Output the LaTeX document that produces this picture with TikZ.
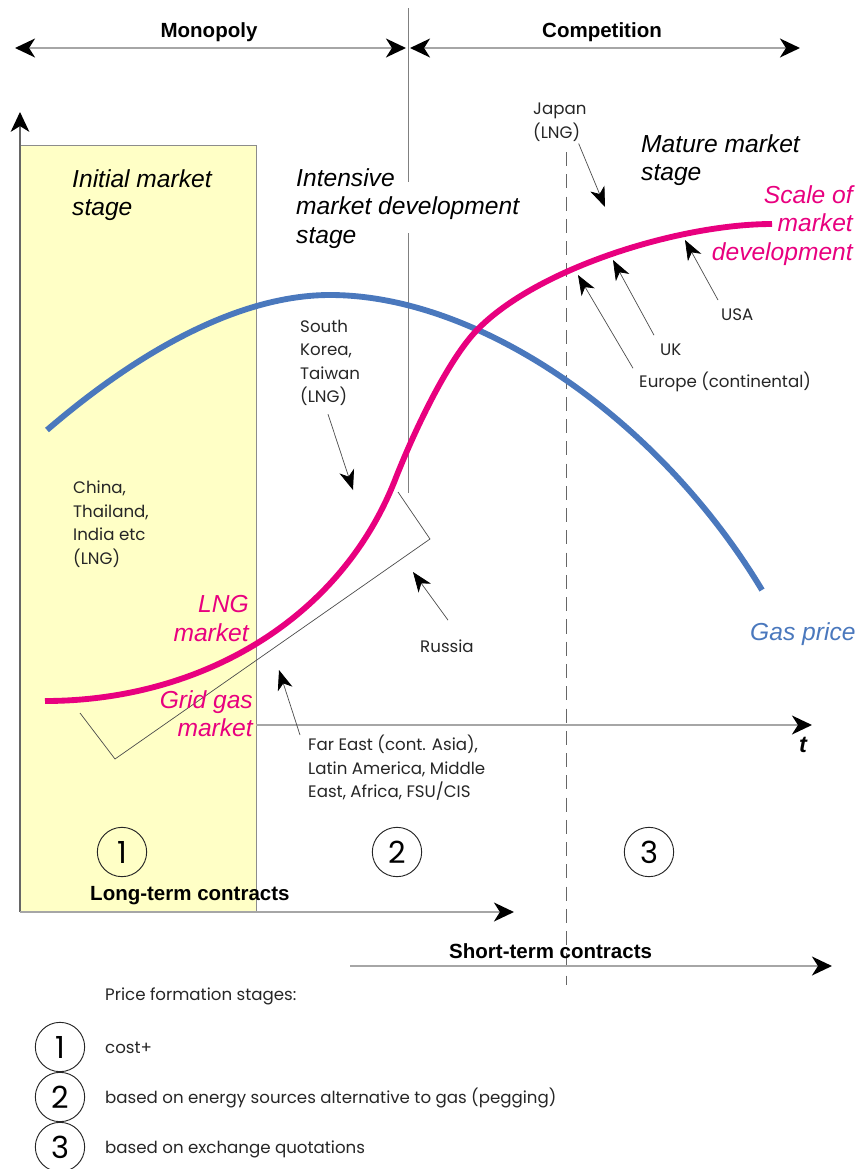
\documentclass[tikz,border=0pt]{standalone}
\usepackage{fontspec}
\setmainfont{Liberation Sans}
\newfontfamily\geofont{Poppins}
\usetikzlibrary{arrows.meta}
\definecolor{stageyellow}{HTML}{FFFFC6}
\definecolor{lngred}{HTML}{E8007F}
\definecolor{priceblue}{HTML}{4A78BD}

\begin{document}
\begin{tikzpicture}[x=0.03cm,y=-0.03cm,
		stagetext/.style={font=\fontsize{21}{24.5}\selectfont\itshape,align=left,inner sep=0pt},
		curvetext/.style={font=\fontsize{21}{24.5}\selectfont\itshape,align=right,inner sep=0pt},
		placetext/.style={font=\geofont\fontsize{14.2}{20}\selectfont,align=left,inner sep=0pt,text=black!85},
		boldtext/.style={font=\fontsize{17.5}{18}\selectfont\bfseries,inner sep=0pt},
		pointer/.style={draw=black!70,line width=0.6pt,-{Stealth[color=black,length=17pt,width=13pt,inset=5pt]}},
		spanline/.style={draw=black!35,line width=2.5pt},
		bighead/.style={-{Stealth[color=black,length=17pt,width=16pt,inset=5pt]}},
		spanboth/.style={spanline,>={Stealth[color=black,length=17pt,width=16pt,inset=5pt]},<->},
		stagenum/.style={circle,draw=black!85,line width=0.8pt,minimum size=1.48cm,inner sep=0pt,font=\geofont\fontsize{26}{26}\selectfont}]
	\useasboundingbox (0,0) rectangle (858,1169);
	\coordinate (origin) at (20,912);
	\coordinate (yend) at (20,112);
	\coordinate (xstart) at (256,725);
	\coordinate (xend) at (812,725);
	\coordinate (longend) at (514,912);
	\coordinate (shortstart) at (350,966);
	\coordinate (shortend) at (832,966);
	\draw[draw=black!45,fill=stageyellow] (20,145) rectangle (256,912);
	\draw[black!50,line width=0.8pt] (408,8) -- (408,182) (408,233) -- (408,493);
	\draw[black!60,line width=0.8pt,dash pattern=on 12pt off 7pt] (566,152) -- (566,985);
	\draw[spanboth] (15,48) -- (406,48);
	\draw[spanboth] (410,48) -- (800,48);
	\node[boldtext,anchor=base] (monopoly) at (209,37) {Monopoly};
	\node[boldtext,anchor=base] (competition) at (602,37) {Competition};
	\draw[black!60,line width=1pt,bighead] (origin) -- (yend);
	\draw[spanline,bighead] (xstart) -- (xend);
	\draw[spanline,bighead] (origin) -- (longend);
	\draw[spanline,bighead] (shortstart) -- (shortend);
	\draw[black!70,line width=0.6pt] (80,713) -- (115,759) -- (430,539) -- (398,492);
	\draw[priceblue,line width=5pt] (47,430) .. controls (140,350) and (240,295) .. (330,295) .. controls (480,295) and (660,420) .. (762,590);
	\draw[lngred,line width=5pt] (45,701) .. controls (200,701) and (340,620) .. (395,480) .. controls (413,434) and (447,361) .. (477,330) .. controls (537,268) and (680,224) .. (772,224);
	\node[stagetext,anchor=north west] (initial) at (72,169) {Initial market\\stage};
	\node[stagetext,anchor=north west] (intensive) at (296,168) {Intensive\\market development\\stage};
	\node[stagetext,anchor=north west] (mature) at (641,134) {Mature market\\stage};
	\node[curvetext,text=lngred,anchor=north east] (scale) at (853,185) {Scale of\\market\\development};
	\node[curvetext,text=lngred,anchor=north east] (lng) at (249,595) {LNG\\market};
	\node[curvetext,text=lngred,anchor=north east] (grid) at (253,690) {Grid gas\\market};
	\node[stagetext,text=priceblue,anchor=base west] (price) at (750,640) {Gas price};
	\node[font=\fontsize{20}{20}\selectfont\bfseries\itshape,anchor=base] (taxis) at (803,752) {t};
	\node[placetext,anchor=north west] (china) at (73,481) {China,\\Thailand,\\India etc\\(LNG)};
	\node[placetext,anchor=north west] (korea) at (300,320) {South\\Korea,\\Taiwan\\(LNG)};
	\node[placetext,anchor=north west] (japan) at (533,103) {Japan\\(LNG)};
	\node[placetext,anchor=base west] (usa) at (721,320) {USA};
	\node[placetext,anchor=base west] (uk) at (660,355) {UK};
	\node[placetext,anchor=base west] (europe) at (639,387) {Europe (continental)};
	\node[placetext,anchor=base west] (russia) at (420,652) {Russia};
	\node[placetext,anchor=north west] (fareast) at (308,735) {Far East (cont. Asia),\\Latin America, Middle\\East, Africa, FSU/CIS};
	\coordinate (japanhead) at (605,207);
	\coordinate (koreahead) at (353,490);
	\coordinate (usahead) at (685,240);
	\coordinate (ukhead) at (613,260);
	\coordinate (europehead) at (578,275);
	\coordinate (russiahead) at (413,572);
	\coordinate (fareasthead) at (279,670);
	\draw[pointer] (japan.south east) ++(-8,2) -- (japanhead);
	\draw[pointer] (korea.south west) ++(28,8) -- (koreahead);
	\draw[pointer] (usa.north west) ++(-3,-8) -- (usahead);
	\draw[pointer] (uk.north west) ++(-6,-8) -- (ukhead);
	\draw[pointer] (europe.north west) ++(-6,-3) -- (europehead);
	\draw[pointer] (russia.north west) ++(28,-19) -- (russiahead);
	\draw[pointer] (fareast.north west) ++(-8,0) -- (fareasthead);
	\node[stagenum] (first) at (122,852) {1};
	\node[stagenum] (second) at (397,852) {2};
	\node[stagenum] (third) at (649,852) {3};
	\node[boldtext,anchor=base west] (longterm) at (90,900) {Long-term contracts};
	\node[boldtext,anchor=base west] (shortterm) at (449,958) {Short-term contracts};
	\node[placetext,anchor=base west] (legend) at (105,1000) {Price formation stages:};
	\node[stagenum] (keyone) at (60,1047) {1};
	\node[stagenum] (keytwo) at (60,1097) {2};
	\node[stagenum] (keythree) at (60,1147) {3};
	\node[placetext,anchor=base west] (costplus) at (105,1053) {cost+};
	\node[placetext,anchor=base west] (pegging) at (105,1103) {based on energy sources alternative to gas (pegging)};
	\node[placetext,anchor=base west] (exchange) at (105,1153) {based on exchange quotations};
\end{tikzpicture}
\end{document}
